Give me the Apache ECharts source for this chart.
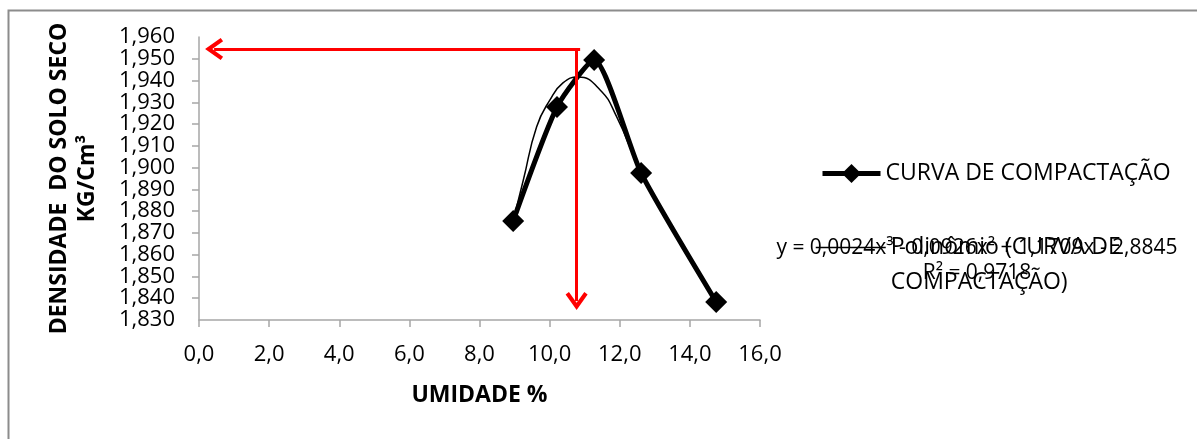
<!DOCTYPE html>
<html>
<head>
<meta charset="utf-8">
<script src="https://cdn.jsdelivr.net/npm/echarts@6/dist/echarts.min.js"></script>
<style>
  html, body { margin: 0; padding: 0; background: #fff; }
  #chart { width: 1197px; height: 439px; }
</style>
</head>
<body>
<div id="chart"></div>
<script>
// pontos do ensaio (umidade %, densidade)
const umidade = [8.96, 10.21, 11.27, 12.61, 14.75];
const densidade = [1.8755, 1.9278, 1.9494, 1.8975, 1.8383];

// curva de tendencia
const trendX = [8.96, 9.25, 9.63, 10.01, 10.38, 10.81, 11.44, 11.91, 12.58, 13.72, 14.75];
const trendY = [1.8755, 1.8943, 1.9188, 1.9311, 1.9389, 1.9416, 1.9357, 1.9234, 1.8989, 1.8652, 1.8378];

// setas vermelhas (umidade otima / densidade maxima)
const arrowX = [10.87, 0.43];
const arrowY = [1.9545, 1.8387];
const arrowVX = 10.77;

const serieName = 'CURVA DE COMPACTAÇÃO';
const trendName = 'Polinômio (CURVA DE COMPACTAÇÃO)';
const equacao = 'y = 0,0024x³ - 0,0926x² + 1,1709x - 2,8845';
const r2 = 'R² = 0,9718';

// eixo y em milesimos para evitar erro de ponto flutuante nos ticks
const K = 1000;
const yMin = 1830, yMax = 1960, yStep = 10;
const font = 'Open Sans';
const chevron = 'path://M0,13 L10,0 L20,13 L17,15 L10,6 L3,15 Z';
const fmtY = v => (v / K).toFixed(3).replace('.', ',');

const yBase = {
    type: 'value',
    min: yMin, max: yMax, interval: yStep,
    splitLine: { show: false }
};

const chart = echarts.init(document.getElementById('chart'));
chart.setOption({
    animation: false,
    textStyle: { fontFamily: font, color: '#000' },
    grid: { left: 199, right: 437, top: 37, bottom: 119 },
    xAxis: {
        type: 'value',
        min: 0, max: 16, interval: 2,
        name: 'UMIDADE %',
        nameLocation: 'middle',
        nameGap: 64,
        nameTextStyle: { fontFamily: font, fontWeight: 'bold', fontSize: 23, color: '#000' },
        axisLine: { lineStyle: { color: '#a6a6a6', width: 1.5 } },
        axisTick: { length: 7, lineStyle: { color: '#a6a6a6', width: 1.5 } },
        axisLabel: {
            fontSize: 22, color: '#000', margin: 24,
            showMinLabel: true, showMaxLabel: true,
            formatter: v => v.toFixed(1).replace('.', ',')
        },
        splitLine: { show: false }
    },
    yAxis: [
        Object.assign({}, yBase, {
            name: 'DENSIDADE  DO SOLO SECO\nKG/Cm³',
            nameLocation: 'middle',
            nameRotate: 90,
            nameGap: 98,
            nameTextStyle: { fontFamily: font, fontWeight: 'bold', fontSize: 23, color: '#000', lineHeight: 28 },
            axisLine: { show: true, lineStyle: { color: '#a6a6a6', width: 1.5 } },
            axisTick: { show: true, length: 7, lineStyle: { color: '#a6a6a6', width: 1.5 } },
            axisLabel: {
                fontSize: 22, color: '#000', margin: 24,
                showMinLabel: false, showMaxLabel: false,
                formatter: fmtY
            }
        }),
        // so os rotulos das pontas (1,830 e 1,960)
        Object.assign({}, yBase, {
            position: 'left',
            axisLine: { show: false },
            axisTick: { show: false },
            axisLabel: {
                fontSize: 22, color: '#000', margin: 24,
                showMinLabel: true, showMaxLabel: true,
                formatter: v => (v === yMin || v === yMax) ? fmtY(v) : ''
            }
        })
    ],
    legend: [
        {
            data: [serieName],
            left: 815, top: 157,
            itemWidth: 58, itemHeight: 24,
            lineStyle: { width: 5 },
            textStyle: { fontFamily: font, fontSize: 23, color: '#000' }
        },
        {
            data: [trendName],
            left: 810, top: 190,
            itemWidth: 70, itemHeight: 24,
            itemStyle: { opacity: 0 },
            lineStyle: { width: 1.5 },
            formatter: () => '\nPolinômio (CURVA DE\nCOMPACTAÇÃO)',
            textStyle: { fontFamily: font, fontSize: 23, color: '#000', lineHeight: 35 }
        }
    ],
    graphic: [
        {
            type: 'rect', left: 6, top: 8, silent: true,
            shape: { width: 1300, height: 500 },
            style: { fill: 'none', stroke: '#8c8c8c', lineWidth: 2 }
        },
        {
            type: 'text', x: 977, y: 248, silent: true,
            style: { text: equacao, font: '21px "Open Sans"', fill: '#000', align: 'center', verticalAlign: 'middle' }
        },
        {
            type: 'text', x: 977, y: 273, silent: true,
            style: { text: r2, font: '21px "Open Sans"', fill: '#000', align: 'center', verticalAlign: 'middle' }
        }
    ],
    series: [
        {
            name: trendName,
            type: 'line',
            data: trendX.map((x, i) => [x, trendY[i] * K]),
            smooth: true,
            symbol: 'none',
            lineStyle: { color: '#000', width: 1.5 },
            itemStyle: { color: '#000' },
            z: 3
        },
        {
            name: serieName,
            type: 'line',
            data: umidade.map((x, i) => [x, densidade[i] * K]),
            smooth: 0.2,
            symbol: 'diamond',
            symbolSize: 22,
            lineStyle: { color: '#000', width: 5 },
            itemStyle: { color: '#000' },
            z: 4,
            markLine: {
                silent: true,
                symbol: ['none', chevron],
                symbolSize: [22, 18],
                label: { show: false },
                lineStyle: { color: '#ff0000', width: 3, type: 'solid' },
                data: [
                    [{ coord: [arrowX[0], arrowY[0] * K] }, { coord: [arrowX[1], arrowY[0] * K] }],
                    [{ coord: [arrowVX, arrowY[0] * K] }, { coord: [arrowVX, arrowY[1] * K] }]
                ]
            }
        }
    ]
});
</script>
</body>
</html>
